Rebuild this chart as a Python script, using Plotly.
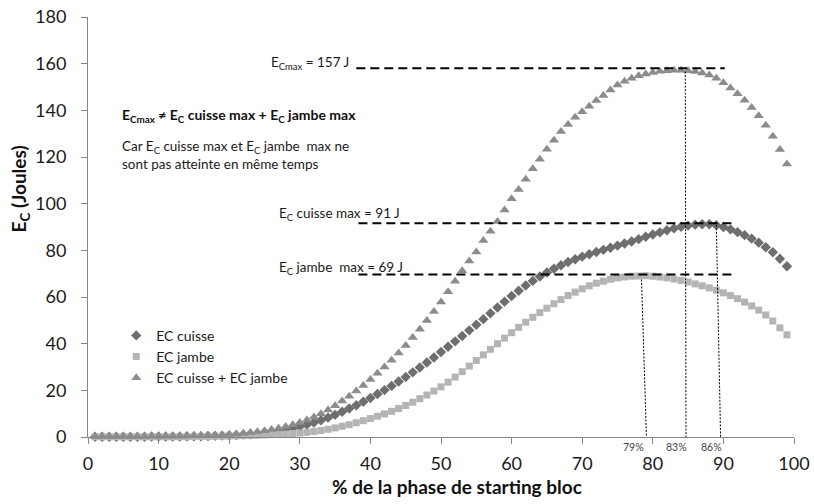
import plotly.graph_objects as go

# % de la phase de starting bloc
x_pct = list(range(1, 100))

ec_cuisse = [
    0.1, 0.1, 0.1, 0.1, 0.1, 0.1, 0.1, 0.1, 0.2, 0.2,
    0.2, 0.2, 0.2, 0.3, 0.3, 0.3, 0.4, 0.5, 0.6, 0.7,
    0.8, 1.0, 1.2, 1.5, 1.8, 2.2, 2.7, 3.2, 3.8, 4.5,
    5.3, 6.2, 7.2, 8.3, 9.5, 10.8, 12.2, 13.6, 15.1, 16.7,
    18.4, 20.1, 21.9, 23.8, 25.7, 27.7, 29.8, 31.9, 34.1, 36.4,
    38.7, 41.0, 43.3, 45.7, 48.1, 50.5, 53.0, 55.5, 58.0, 60.4,
    62.7, 64.9, 66.9, 68.8, 70.5, 72.1, 73.6, 75.0, 76.2, 77.3,
    78.3, 79.3, 80.2, 81.1, 82.0, 82.9, 83.8, 84.8, 85.8, 86.8,
    87.7, 88.6, 89.4, 90.1, 90.6, 91.0, 91.2, 91.2, 90.8, 90.0,
    89.0, 87.8, 86.5, 85.0, 83.3, 81.3, 79.2, 76.4, 73.2,
]

ec_jambe = [
    0.1, 0.1, 0.1, 0.1, 0.1, 0.1, 0.1, 0.1, 0.1, 0.1,
    0.1, 0.1, 0.1, 0.1, 0.2, 0.2, 0.2, 0.3, 0.3, 0.4,
    0.5, 0.6, 0.7, 0.8, 0.9, 1.0, 1.1, 1.3, 1.5, 1.7,
    2.0, 2.4, 2.8, 3.3, 3.9, 4.6, 5.3, 6.1, 7.0, 7.9,
    8.9, 9.9, 11.0, 12.2, 13.5, 14.9, 16.4, 18.0, 19.7, 21.5,
    23.5, 25.7, 28.0, 30.4, 32.8, 35.2, 37.6, 40.0, 42.4, 44.7,
    47.0, 49.2, 51.3, 53.3, 55.2, 57.1, 58.9, 60.6, 62.1, 63.5,
    64.8, 65.9, 66.8, 67.6, 68.2, 68.6, 68.9, 69.0, 69.1, 68.9,
    68.6, 68.2, 67.7, 67.1, 66.4, 65.6, 64.8, 63.9, 62.9, 61.8,
    60.6, 59.3, 57.8, 56.2, 54.4, 52.3, 49.7, 46.8, 43.8,
]

ec_total = [
    0.2, 0.2, 0.2, 0.2, 0.2, 0.2, 0.2, 0.2, 0.3, 0.3,
    0.3, 0.3, 0.3, 0.4, 0.5, 0.5, 0.6, 0.8, 0.9, 1.1,
    1.3, 1.6, 1.9, 2.3, 2.7, 3.2, 3.8, 4.5, 5.3, 6.2,
    7.3, 8.6, 10.0, 11.6, 13.4, 15.4, 17.5, 19.7, 22.1, 24.6,
    27.3, 30.0, 32.9, 36.0, 39.2, 42.6, 46.2, 49.9, 53.8, 57.9,
    62.2, 66.7, 71.2, 75.4, 79.3, 84.2, 88.2, 92.4, 97.3, 102.1,
    106.1, 110.5, 115.0, 119.0, 123.3, 127.2, 130.9, 133.9, 137.0, 139.4,
    141.8, 144.2, 146.4, 148.7, 150.9, 152.5, 153.8, 154.8, 155.6, 156.2,
    156.7, 157.0, 157.2, 157.2, 157.0, 156.6, 156.0, 155.1, 153.7, 151.8,
    149.6, 147.1, 144.3, 141.2, 137.7, 133.6, 128.9, 123.2, 117.0,
]

series_names = ["EC cuisse", "EC jambe", "EC cuisse + EC jambe"]
pct_labels = ["79%", "83%", "86%"]

FONT = "Lato, 'Open Sans', sans-serif"

fig = go.Figure()
fig.add_trace(go.Scatter(x=x_pct, y=ec_cuisse, mode="markers", name=series_names[0],
                         marker=dict(symbol="diamond", size=8, color="#6e6e6e"), cliponaxis=False))
fig.add_trace(go.Scatter(x=x_pct, y=ec_jambe, mode="markers", name=series_names[1],
                         marker=dict(symbol="square", size=7, color="#b4b4b4"), cliponaxis=False))
fig.add_trace(go.Scatter(x=x_pct, y=ec_total, mode="markers", name=series_names[2],
                         marker=dict(symbol="triangle-up", size=9, color="#8c8c8c"), cliponaxis=False))

# dashed max lines
dash_style = dict(color="black", width=2, dash="9px,5px")
fig.add_shape(type="line", x0=38.0, x1=90.2, y0=158, y1=158, line=dash_style)
fig.add_shape(type="line", x0=38.3, x1=91.2, y0=91.6, y1=91.6, line=dash_style)
fig.add_shape(type="line", x0=38.3, x1=91.2, y0=69.6, y1=69.6, line=dash_style)

# dotted drop lines
dot_style = dict(color="black", width=1, dash="2px,1.5px")
fig.add_shape(type="line", x0=78.4, x1=79.1, y0=67.5, y1=0, line=dot_style)
fig.add_shape(type="line", x0=84.6, x1=84.7, y0=156.6, y1=0, line=dot_style)
fig.add_shape(type="line", x0=89.0, x1=89.6, y0=90.9, y1=0, line=dot_style)

txt = dict(family=FONT, size=13.5, color="#1a1a1a")
fig.add_annotation(x=37.2, y=160.5, text="E<sub>Cmax</sub> = 157 J", showarrow=False,
                   xanchor="right", yanchor="middle", font=txt)
fig.add_annotation(x=26.8, y=95.5, text="E<sub>C</sub> cuisse max = 91 J", showarrow=False,
                   xanchor="left", yanchor="middle", font=txt)
fig.add_annotation(x=26.8, y=72.5, text="E<sub>C</sub> jambe\u00a0 max = 69 J", showarrow=False,
                   xanchor="left", yanchor="middle", font=txt)
fig.add_annotation(x=4.6, y=138, text="<b>E<sub>Cmax</sub> \u2260 E<sub>C</sub> cuisse max + E<sub>C</sub> jambe max</b>",
                   showarrow=False, xanchor="left", yanchor="middle", font=dict(family=FONT, size=14, color="#111"))
fig.add_annotation(x=4.6, y=124.5, text="Car E<sub>C</sub> cuisse max et E<sub>C</sub> jambe\u00a0 max ne",
                   showarrow=False, xanchor="left", yanchor="middle", font=txt)
fig.add_annotation(x=4.6, y=117.0, text="sont pas atteinte en m\u00eame temps",
                   showarrow=False, xanchor="left", yanchor="middle", font=txt)

# percentage labels under the axis (paper y so they are not hidden off-range)
for xp, lab in zip([77.2, 83.4, 88.3], pct_labels):
    fig.add_annotation(x=xp, xref="x", yref="paper", y=-0.025, text=lab, showarrow=False,
                       xanchor="center", yanchor="middle", font=dict(family=FONT, size=10.5, color="#444"))

# axis titles
fig.add_annotation(xref="paper", yref="paper", x=0.523, y=-0.117, text="<b>% de la phase de starting bloc</b>",
                   showarrow=False, xanchor="center", yanchor="middle", font=dict(family=FONT, size=19, color="#111"))
fig.add_annotation(xref="paper", yref="paper", x=-0.096, y=0.59, text="<b>E<sub>C</sub> (Joules)</b>",
                   textangle=-90, showarrow=False, xanchor="center", yanchor="middle",
                   font=dict(family=FONT, size=19, color="#111"))

axis_common = dict(showline=True, linecolor="#868686", linewidth=1, ticks="outside", tickcolor="#868686",
                   ticklen=6, showgrid=False, zeroline=False, ticklabeloverflow="allow", automargin=False,
                   tickfont=dict(family=FONT, size=18, color="#1a1a1a"))
fig.update_xaxes(range=[0, 100], dtick=10, tick0=0, ticklabelstandoff=4, **axis_common)
fig.update_yaxes(range=[0, 180], dtick=20, tick0=0, ticklabelstandoff=11, **axis_common)

fig.update_layout(
    width=814, height=504,
    margin=dict(l=88, r=20, t=17, b=67, autoexpand=False),
    plot_bgcolor="white", paper_bgcolor="white",
    font=dict(family=FONT),
    legend=dict(x=0.04, y=0.279, xanchor="left", yanchor="top", bgcolor="rgba(0,0,0,0)",
                font=dict(family=FONT, size=14, color="#1a1a1a")),
)

# drop the page's default body margin so the figure fills the window exactly
fig.write_html("out.html", config={"displayModeBar": False},
               post_script="document.body.style.margin='0px';")
